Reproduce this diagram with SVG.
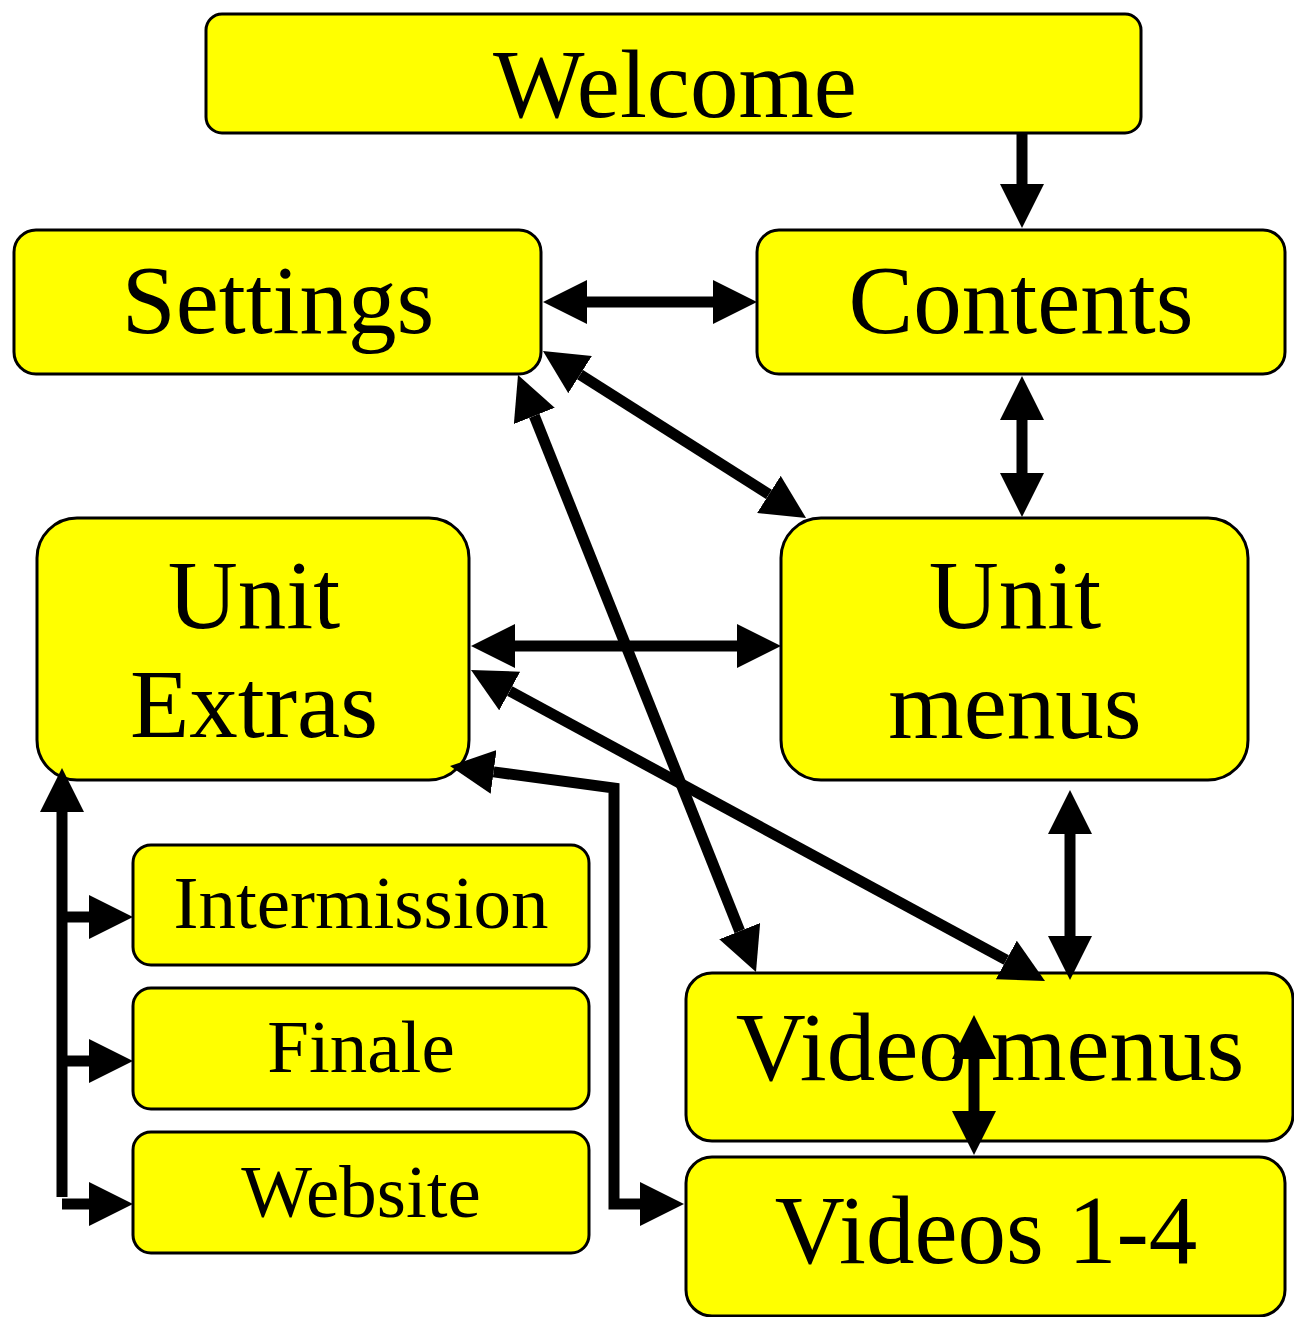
<svg xmlns="http://www.w3.org/2000/svg" width="1294" height="1317" viewBox="0 0 1294 1317">
<style>
.box{fill:#ffff00;stroke:#000;stroke-width:3}
.t{font-family:"Liberation Serif","Times New Roman",serif;fill:#000;text-anchor:middle}
.big{font-size:97px}
.sm{font-size:75px}
.c{fill:none;stroke:#000;stroke-width:11;stroke-linejoin:miter}
.a{marker-end:url(#ah)}
.b{marker-start:url(#ah);marker-end:url(#ah)}
</style>
<defs>
<marker id="ah" markerUnits="userSpaceOnUse" markerWidth="44" markerHeight="44" refX="0" refY="22" orient="auto-start-reverse" viewBox="0 0 44 44">
<path d="M0,0 L44,22 L0,44 Z" fill="#000"/>
</marker>
</defs>
<rect width="1294" height="1317" fill="#fff"/>
<g id="welcome"><rect class="box" x="206" y="14" width="935" height="119" rx="16"/><text class="t big" x="675" y="117">Welcome</text></g>
<g id="settings"><rect class="box" x="14" y="230" width="527" height="144" rx="22"/><text class="t big" x="278" y="333">Settings</text></g>
<g id="contents"><rect class="box" x="757" y="230" width="528" height="144" rx="22"/><text class="t big" x="1021" y="333">Contents</text></g>
<g id="unit-extras"><rect class="box" x="37" y="518" width="432" height="262" rx="40"/><text class="t big" x="254" y="628">Unit</text><text class="t big" x="254" y="737">Extras</text></g>
<g id="unit-menus"><rect class="box" x="781" y="518" width="467" height="262" rx="40"/><text class="t big" x="1015" y="628">Unit</text><text class="t big" x="1015" y="738">menus</text></g>
<g id="intermission"><rect class="box" x="133" y="845" width="456" height="120" rx="18"/><text class="t sm" x="361" y="928">Intermission</text></g>
<g id="finale"><rect class="box" x="133" y="988" width="456" height="121" rx="18"/><text class="t sm" x="361" y="1072">Finale</text></g>
<g id="website"><rect class="box" x="133" y="1132" width="456" height="121" rx="18"/><text class="t sm" x="361" y="1217">Website</text></g>
<g id="video-menus"><rect class="box" x="686" y="973" width="607" height="168" rx="26"/><text class="t big" x="990" y="1080">Video menus</text></g>
<g id="videos"><rect class="box" x="686" y="1157" width="599" height="159" rx="26"/><text class="t big" x="986" y="1263">Videos 1-4</text></g>
<g id="connectors">
<path class="c a" d="M1022,133 L1022,184"/>
<path class="c b" d="M587,302 L713,302"/>
<path class="c b" d="M1022,420 L1022,473"/>
<path class="c b" d="M580.1,374.6 L768.9,494.4"/>
<path class="c b" d="M534.3,415.9 L739.7,931.1"/>
<path class="c b" d="M515,646 L737,646"/>
<path class="c b" d="M509.7,691 L1006.3,960"/>
<path class="c b" d="M1070,834 L1070,936"/>
<path class="c b" d="M974,1059 L974,1111"/>
<path class="c a" d="M62,1197 L62,812"/>
<path class="c a" d="M62,917 L89,917"/>
<path class="c a" d="M62,1061 L89,1061"/>
<path class="c a" d="M62,1204 L89,1204"/>
<path class="c b" d="M640,1204 L614,1204 L614,788 L493.6,771.9"/>
</g>
</svg>
